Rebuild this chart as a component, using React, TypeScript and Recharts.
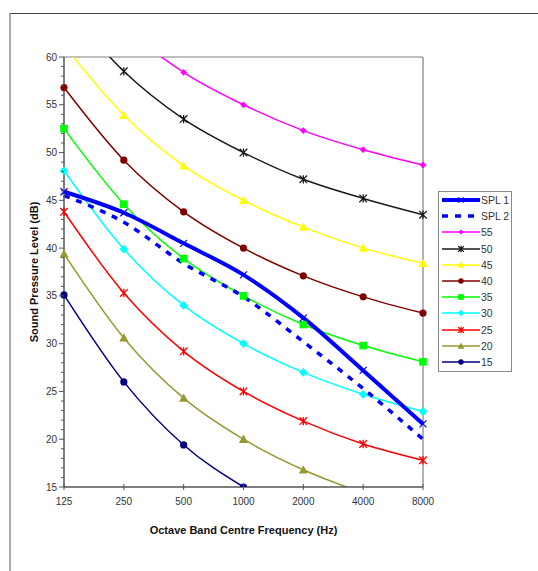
import React from 'react'
import { LineChart, Line, XAxis, YAxis, Legend, ReferenceLine } from 'recharts'

// octave band centre frequencies (Hz)
const freqs = ['125', '250', '500', '1000', '2000', '4000', '8000']

// measured spectra
const spl1 = [45.9, 43.7, 40.5, 37.2, 32.7, 27.2, 21.6]
const spl2 = [45.5, 42.7, 38.4, 34.9, 30.2, 25.3, 20.0]

// rating curves
const nr55 = [69.9, 63.2, 58.4, 55.0, 52.3, 50.3, 48.7]
const nr50 = [65.5, 58.5, 53.5, 50.0, 47.2, 45.2, 43.5]
const nr45 = [61.2, 53.9, 48.6, 45.0, 42.2, 40.0, 38.4]
const nr40 = [56.8, 49.2, 43.8, 40.0, 37.1, 34.9, 33.2]
const nr35 = [52.5, 44.6, 38.9, 35.0, 32.0, 29.8, 28.1]
const nr30 = [48.1, 39.9, 34.0, 30.0, 27.0, 24.7, 22.9]
const nr25 = [43.8, 35.3, 29.2, 25.0, 21.9, 19.5, 17.8]
const nr20 = [39.4, 30.6, 24.3, 20.0, 16.8, 14.4, 12.6]
const nr15 = [35.1, 26.0, 19.4, 15.0, 11.7, 9.3, 7.5]

const yMin = 15
const yMax = 60
const yTicks = Array.from({ length: yMax - yMin + 1 }, (_, i) => yMin + i)

type Shape = 'none' | 'x' | 'star' | 'diamond' | 'smalldiamond' | 'triangle' | 'circle' | 'square'

interface Series {
  key: string
  name: string
  values: number[]
  color: string
  width: number
  dash?: string
  shape: Shape
}

const series: Series[] = [
  { key: 'spl1', name: 'SPL 1', values: spl1, color: '#0000ff', width: 4, shape: 'x' },
  { key: 'spl2', name: 'SPL 2', values: spl2, color: '#0000ff', width: 3.5, dash: '6 7', shape: 'none' },
  { key: 'nr55', name: '55', values: nr55, color: '#ff00ff', width: 1.5, shape: 'smalldiamond' },
  { key: 'nr50', name: '50', values: nr50, color: '#1a1a1a', width: 1.5, shape: 'star' },
  { key: 'nr45', name: '45', values: nr45, color: '#ffff00', width: 1.5, shape: 'triangle' },
  { key: 'nr40', name: '40', values: nr40, color: '#800000', width: 1.5, shape: 'circle' },
  { key: 'nr35', name: '35', values: nr35, color: '#00ff00', width: 1.5, shape: 'square' },
  { key: 'nr30', name: '30', values: nr30, color: '#00ffff', width: 1.5, shape: 'diamond' },
  { key: 'nr25', name: '25', values: nr25, color: '#ff0000', width: 1.5, shape: 'star' },
  { key: 'nr20', name: '20', values: nr20, color: '#999933', width: 1.5, shape: 'triangle' },
  { key: 'nr15', name: '15', values: nr15, color: '#000080', width: 1.5, shape: 'circle' },
]

const data = freqs.map((f, i) => {
  const row: Record<string, any> = { freq: f }
  series.forEach((s) => {
    row[s.key] = s.values[i]
  })
  return row
})

const font = 'Arial, "Liberation Sans", sans-serif'

function Marker({ shape, cx, cy, color, k = 1 }: { shape: Shape; cx: number; cy: number; color: string; k?: number }) {
  switch (shape) {
    case 'circle':
      return <circle cx={cx} cy={cy} r={3.6 * k} fill={color} />
    case 'square':
      return <rect x={cx - 3.8 * k} y={cy - 3.8 * k} width={7.6 * k} height={7.6 * k} fill={color} />
    case 'triangle': {
      const s = 4.6 * k
      return <polygon points={`${cx},${cy - s} ${cx + s},${cy + s * 0.8} ${cx - s},${cy + s * 0.8}`} fill={color} />
    }
    case 'diamond': {
      const s = 4.4 * k
      return <polygon points={`${cx},${cy - s} ${cx + s},${cy} ${cx},${cy + s} ${cx - s},${cy}`} fill={color} />
    }
    case 'smalldiamond': {
      const s = 3.4 * k
      return <polygon points={`${cx},${cy - s} ${cx + s},${cy} ${cx},${cy + s} ${cx - s},${cy}`} fill={color} />
    }
    case 'x': {
      const s = 3.5 * k
      return (
        <path
          d={`M${cx - s},${cy - s}L${cx + s},${cy + s}M${cx - s},${cy + s}L${cx + s},${cy - s}`}
          stroke={color}
          strokeWidth={1.2}
        />
      )
    }
    case 'star': {
      const s = 3.8 * k
      return (
        <path
          d={`M${cx - s},${cy - s}L${cx + s},${cy + s}M${cx - s},${cy + s}L${cx + s},${cy - s}M${cx},${cy - s * 1.1}L${cx},${cy + s * 1.1}`}
          stroke={color}
          strokeWidth={1.3}
        />
      )
    }
    default:
      return null
  }
}

const YTick = (props: any) => {
  const { x, y, payload } = props
  const major = payload.value % 5 === 0
  return (
    <g>
      <line x1={x - (major ? 5 : 3)} x2={x} y1={y} y2={y} stroke="#555" />
      {major && (
        <text x={x - 7} y={y} dy={3.6} textAnchor="end" fontSize={10} fill="#333" fontFamily={font}>
          {payload.value}
        </text>
      )}
    </g>
  )
}

const XTick = (props: any) => {
  const { x, y, payload } = props
  return (
    <g>
      <line x1={x} x2={x} y1={y - 3} y2={y + 3} stroke="#555" />
      <text x={x} y={y} dy={18} textAnchor="middle" fontSize={10} fill="#333" fontFamily={font}>
        {payload.value}
      </text>
    </g>
  )
}

function LegendBox() {
  return (
    <div style={{ border: '1px solid #888', background: '#fff', padding: '0 0 1px 0', fontFamily: font }}>
      {series.map((s) => (
        <div key={s.key} style={{ display: 'flex', alignItems: 'center', height: 16.2 }}>
          <svg width={42} height={16} style={{ display: 'block' }}>
            <line
              x1={3}
              x2={41}
              y1={8}
              y2={8}
              stroke={s.color}
              strokeWidth={s.width > 2 ? s.width : 1.5}
              strokeDasharray={s.dash}
            />
            <Marker shape={s.shape} cx={22} cy={8} color={s.color} k={0.75} />
          </svg>
          <span style={{ fontSize: 10.5, color: '#333', lineHeight: '16px' }}>{s.name}</span>
        </div>
      ))}
    </div>
  )
}

export default function App() {
  return (
    <div style={{ position: 'absolute', left: 0, top: 0, width: 538, height: 571, background: '#fff', fontFamily: font }}>
      {/* outer frame */}
      <div
        style={{
          position: 'absolute',
          left: 9,
          top: 13,
          width: 540,
          height: 570,
          borderTop: '1.5px solid #444',
          borderLeft: '2px solid #aaa',
        }}
      />
      <div style={{ position: 'absolute', left: 0, top: 0 }}>
        <LineChart width={538} height={571} data={data} margin={{ top: 57, right: 115, bottom: 34, left: 24 }}>
          <XAxis
            dataKey="freq"
            height={50}
            tickSize={0}
            tickMargin={0}
            tickLine={false}
            tick={<XTick />}
            interval={0}
            axisLine={{ stroke: '#555', strokeWidth: 1.5 }}
            label={{
              value: 'Octave Band Centre Frequency (Hz)',
              position: 'insideBottom',
              offset: 3,
              style: { fontSize: 11, fontWeight: 'bold', fill: '#111', fontFamily: font },
            }}
          />
          <YAxis
            type="number"
            domain={[yMin, yMax]}
            ticks={yTicks}
            allowDataOverflow
            width={40}
            tickSize={0}
            tickMargin={0}
            tickLine={false}
            tick={<YTick />}
            interval={0}
            axisLine={{ stroke: '#555', strokeWidth: 1.5 }}
            label={{
              value: 'Sound Pressure Level (dB)',
              angle: -90,
              position: 'center',
              dx: -10,
              style: { fontSize: 11, fontWeight: 'bold', fill: '#111', fontFamily: font, textAnchor: 'middle' },
            }}
          />
          <ReferenceLine y={yMax} stroke="#aaa" strokeWidth={1.5} />
          <ReferenceLine x="8000" stroke="#999" strokeWidth={1.5} />
          {series
            .slice()
            .reverse()
            .map((s) => (
              <Line
                key={s.key}
                type="monotone"
                dataKey={s.key}
                name={s.name}
                stroke={s.color}
                strokeWidth={s.width}
                strokeDasharray={s.dash}
                isAnimationActive={false}
                activeDot={false}
                dot={(p: any) => {
                  const v = p.value
                  if (s.shape === 'none' || v == null || v < yMin || v > yMax) return <g key={`${s.key}-${p.index}`} />
                  return (
                    <g key={`${s.key}-${p.index}`}>
                      <Marker shape={s.shape} cx={p.cx} cy={p.cy} color={s.color} />
                    </g>
                  )
                }}
              />
            ))}
          <Legend
            layout="horizontal"
            verticalAlign="middle"
            align="center"
            wrapperStyle={{ left: 438, top: 191, width: 74 }}
            content={() => <LegendBox />}
          />
        </LineChart>
      </div>
    </div>
  )
}
